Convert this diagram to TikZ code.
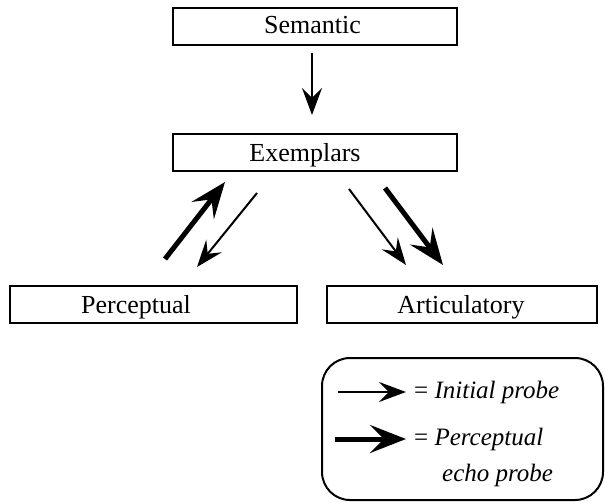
\documentclass[tikz,border=0pt]{standalone}
\usepackage{fontspec}
\setmainfont{Liberation Serif}
\usetikzlibrary{arrows.meta}
\begin{document}
\begin{tikzpicture}[x=1pt,y=-1pt,
  box/.style={draw,line width=2pt,inner sep=0pt,minimum height=37pt},
  lab/.style={inner sep=0pt,anchor=base,font=\fontsize{26}{30}\selectfont},
  thinarr/.style={line width=2pt,-{Stealth[length=27pt,width=20pt,inset=10pt]}},
  thickarr/.style={line width=5pt,-{Stealth[length=36pt,width=28pt,inset=14pt]}},
  leg/.style={anchor=west,inner sep=0pt,font=\fontsize{25}{30}\selectfont\itshape,align=left}]
\useasboundingbox (0,0) rectangle (605,503);
\node[box,minimum width=284pt] (sem) at (315,26.5) {};
\node[box,minimum width=284pt] (exe) at (315,152.5) {};
\node[box,minimum width=287pt] (per) at (153.5,304.5) {};
\node[box,minimum width=270pt] (art) at (462,304.5) {};
\node[lab] (semt) at (312.5,34) {Semantic};
\node[lab] (exet) at (305,161) {Exemplars};
\node[lab] (pert) at (136,313) {Perceptual};
\node[lab] (artt) at (461,313) {Articulatory};
% connectors
\coordinate (a1) at (312,53);
\coordinate (a2) at (312,115);
\draw[thinarr] (a1) -- (a2);
\coordinate (l1s) at (165,259);
\coordinate (l1e) at (225,182);
\draw[thickarr] (l1s) -- (l1e);
\coordinate (l2s) at (257,193);
\coordinate (l2e) at (197,267);
\draw[thinarr] (l2s) -- (l2e);
\coordinate (r1s) at (349,189);
\coordinate (r1e) at (406,265);
\draw[thinarr] (r1s) -- (r1e);
\coordinate (r2s) at (385,188);
\coordinate (r2e) at (443,265);
\draw[thickarr] (r2s) -- (r2e);
% legend
\draw[line width=2pt,rounded corners=28pt] (322,358) rectangle (603,500);
\coordinate (g1s) at (338,392);
\coordinate (g1e) at (406,392);
\draw[thinarr] (g1s) -- (g1e);
\coordinate (g2s) at (335,439);
\coordinate (g2e) at (406,439);
\draw[thickarr] (g2s) -- (g2e);
\node[leg] (t1) at (414,392) {\upshape= \itshape Initial probe};
\node[leg] (t2) at (414,439) {\upshape= \itshape Perceptual};
\node[leg] (t3) at (442,475) {echo probe};
\end{tikzpicture}
\end{document}
